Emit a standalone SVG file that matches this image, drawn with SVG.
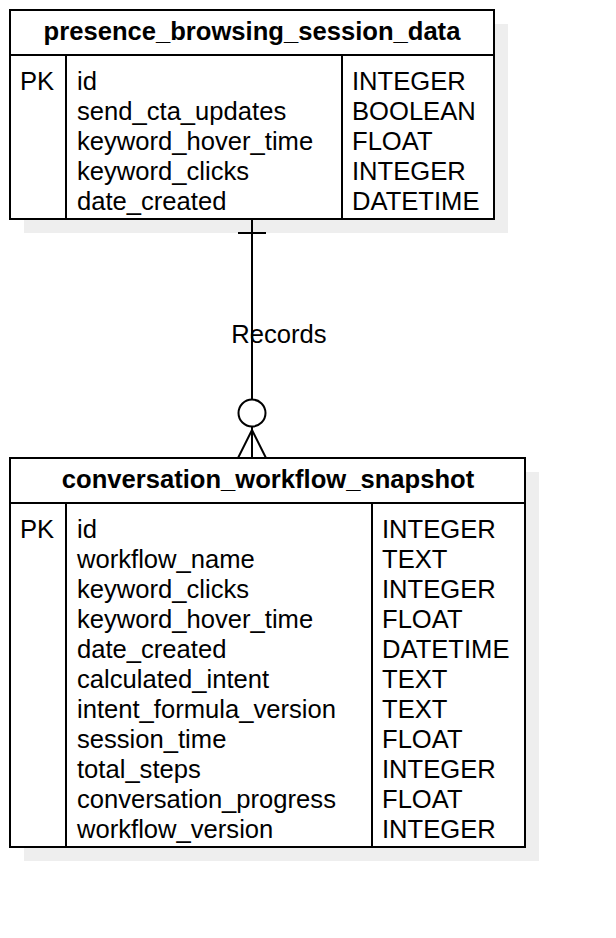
<svg xmlns="http://www.w3.org/2000/svg" width="616" height="938" viewBox="0 0 616 938">
<style>
.shadow{fill:#eeeeee;stroke:none}
.box{fill:#ffffff;stroke:#000000;stroke-width:2}
.ln{stroke:#000000;stroke-width:2;fill:none}
.hd{font-family:"Liberation Sans",Arial,sans-serif;font-size:25.6px;font-weight:bold;fill:#000;text-anchor:middle}
.tx{font-family:"Liberation Sans",Arial,sans-serif;font-size:25.6px;fill:#000}
</style>
<rect width="616" height="938" fill="#ffffff"/>
<g id="presence_browsing_session_data">
<rect class="shadow" x="24" y="24" width="484" height="209"/>
<rect class="box" x="10" y="10" width="484" height="209"/>
<line class="ln" x1="10" y1="55" x2="494" y2="55"/>
<line class="ln" x1="66" y1="55" x2="66" y2="219"/>
<line class="ln" x1="342" y1="55" x2="342" y2="219"/>
<text class="hd" x="252" y="40">presence_browsing_session_data</text>
<text class="tx" x="20" y="89.5">PK</text>
<text class="tx" x="77" y="89.5">id</text>
<text class="tx" x="77" y="119.5">send_cta_updates</text>
<text class="tx" x="77" y="149.5">keyword_hover_time</text>
<text class="tx" x="77" y="179.5">keyword_clicks</text>
<text class="tx" x="77" y="209.5">date_created</text>
<text class="tx" x="352" y="89.5">INTEGER</text>
<text class="tx" x="352" y="119.5">BOOLEAN</text>
<text class="tx" x="352" y="149.5">FLOAT</text>
<text class="tx" x="352" y="179.5">INTEGER</text>
<text class="tx" x="352" y="209.5">DATETIME</text>
</g>
<g id="conversation_workflow_snapshot">
<rect class="shadow" x="24" y="472" width="515" height="389"/>
<rect class="box" x="10" y="458" width="515" height="389"/>
<line class="ln" x1="10" y1="503" x2="525" y2="503"/>
<line class="ln" x1="66" y1="503" x2="66" y2="847"/>
<line class="ln" x1="372" y1="503" x2="372" y2="847"/>
<text class="hd" x="268" y="488">conversation_workflow_snapshot</text>
<text class="tx" x="20" y="538">PK</text>
<text class="tx" x="77" y="538">id</text>
<text class="tx" x="77" y="568">workflow_name</text>
<text class="tx" x="77" y="598">keyword_clicks</text>
<text class="tx" x="77" y="628">keyword_hover_time</text>
<text class="tx" x="77" y="658">date_created</text>
<text class="tx" x="77" y="688">calculated_intent</text>
<text class="tx" x="77" y="718">intent_formula_version</text>
<text class="tx" x="77" y="748">session_time</text>
<text class="tx" x="77" y="778">total_steps</text>
<text class="tx" x="77" y="808">conversation_progress</text>
<text class="tx" x="77" y="838">workflow_version</text>
<text class="tx" x="382" y="538">INTEGER</text>
<text class="tx" x="382" y="568">TEXT</text>
<text class="tx" x="382" y="598">INTEGER</text>
<text class="tx" x="382" y="628">FLOAT</text>
<text class="tx" x="382" y="658">DATETIME</text>
<text class="tx" x="382" y="688">TEXT</text>
<text class="tx" x="382" y="718">TEXT</text>
<text class="tx" x="382" y="748">FLOAT</text>
<text class="tx" x="382" y="778">INTEGER</text>
<text class="tx" x="382" y="808">FLOAT</text>
<text class="tx" x="382" y="838">INTEGER</text>
</g>
<g id="connectors">
<line class="ln" x1="252" y1="219" x2="252" y2="399"/>
<line class="ln" x1="238" y1="233" x2="266" y2="233"/>
<circle class="ln" cx="252" cy="413" r="13.5"/>
<line class="ln" x1="252" y1="427" x2="252" y2="458"/>
<line class="ln" x1="252" y1="430" x2="238" y2="458"/>
<line class="ln" x1="252" y1="430" x2="266" y2="458"/>
<text class="tx" x="279" y="343" text-anchor="middle">Records</text>
</g>
</svg>
